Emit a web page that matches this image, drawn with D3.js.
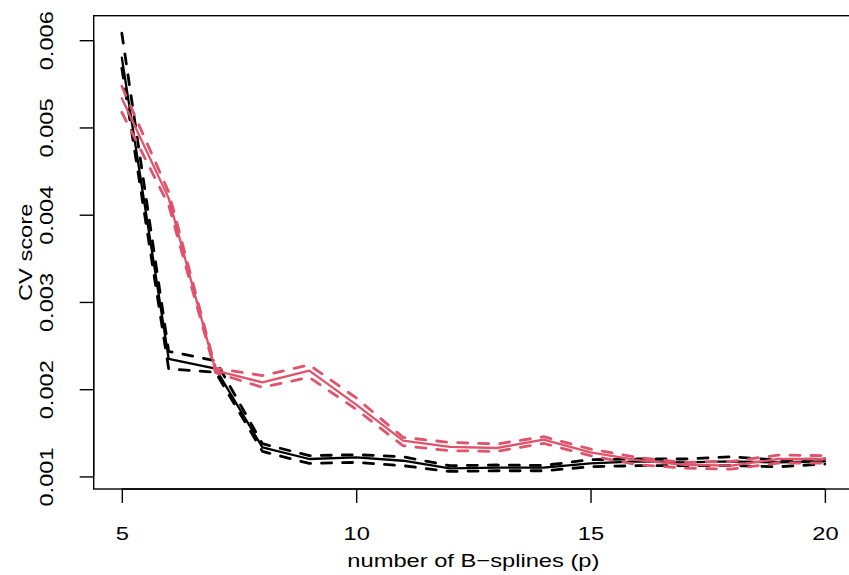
<!DOCTYPE html>
<html>
<head>
<meta charset="utf-8">
<script src="https://cdn.jsdelivr.net/npm/d3@7"></script>
<style>
  body { margin: 0; background: #fff; }
  svg text { font-family: "Liberation Sans", Arial, sans-serif; fill: #000; }
</style>
</head>
<body>
<svg width="849" height="575"></svg>
<script>
// number of B-splines
var p = [5, 6, 7, 8, 9, 10, 11, 12, 13, 14, 15, 16, 17, 18, 19, 20];

// black series: mean CV score with upper / lower bands
var blackMean  = [0.00580, 0.002347, 0.002236, 0.001333, 0.001200, 0.001218, 0.001180, 0.001092, 0.001100, 0.001100, 0.001149, 0.001172, 0.001161, 0.001172, 0.001161, 0.001172];
var blackUpper = [0.00608, 0.002434, 0.002326, 0.001375, 0.001238, 0.001249, 0.001226, 0.001123, 0.001131, 0.001126, 0.001192, 0.001200, 0.001200, 0.001226, 0.001188, 0.001200];
var blackLower = [0.00568, 0.002233, 0.002194, 0.001287, 0.001149, 0.001161, 0.001123, 0.001057, 0.001065, 0.001065, 0.001111, 0.001123, 0.001123, 0.001123, 0.001111, 0.001142];

// red series
var redMean  = [0.005334, 0.00419, 0.002213, 0.002079, 0.002213, 0.001823, 0.001410, 0.001339, 0.001326, 0.001421, 0.001276, 0.001188, 0.001134, 0.001123, 0.001200, 0.001200];
var redUpper = [0.005472, 0.00426, 0.002240, 0.002156, 0.002278, 0.001900, 0.001448, 0.001390, 0.001372, 0.001456, 0.001314, 0.001218, 0.001161, 0.001172, 0.001245, 0.001238];
var redLower = [0.005173, 0.00411, 0.002190, 0.002021, 0.002136, 0.001770, 0.001352, 0.001295, 0.001287, 0.001379, 0.001238, 0.001134, 0.001096, 0.001084, 0.001154, 0.001154];

var xTicks = [5, 10, 15, 20];
var yTicks = [0.001, 0.002, 0.003, 0.004, 0.005, 0.006];

var red = "#DF536B";
var fontSize = "18.5px";
var stretch = 1.28;   // R text comes out wider than Arial

var svg = d3.select("svg");
var mLeft = 93.7, mRight = 853, mTop = 15.7, mBottom = 489;

// R style: 4% padding around data range
var allY = blackMean.concat(blackUpper, blackLower, redMean, redUpper, redLower);
var yMin = d3.min(allY), yMax = d3.max(allY);
var yPad = (yMax - yMin) * 0.04;
var x = d3.scaleLinear().domain([4.4, 20.6]).range([mLeft, mRight]);
var y = d3.scaleLinear().domain([yMin - yPad, yMax + yPad]).range([mBottom, mTop]);

function widen(sel) {
  sel.each(function() {
    var w = this.getComputedTextLength();
    d3.select(this).attr("textLength", w * stretch).attr("lengthAdjust", "spacingAndGlyphs");
  });
}

var line = d3.line()
  .x(function(d, i) { return x(p[i]); })
  .y(function(d) { return y(d); });

var series = [
  { v: blackMean,  c: "#000", dash: null },
  { v: blackUpper, c: "#000", dash: "10 11" },
  { v: blackLower, c: "#000", dash: "10 11" },
  { v: redMean,    c: red,    dash: null },
  { v: redUpper,   c: red,    dash: "10 11" },
  { v: redLower,   c: red,    dash: "10 11" }
];

svg.append("g").selectAll("path")
  .data(series)
  .enter().append("path")
    .attr("d", function(d) { return line(d.v); })
    .attr("fill", "none")
    .attr("stroke", function(d) { return d.c; })
    .attr("stroke-width", function(d) { return d.dash ? 2.8 : 2.3; })
    .attr("stroke-dasharray", function(d) { return d.dash; })
    .attr("stroke-linecap", "round")
    .attr("stroke-linejoin", "round");

// box
svg.append("rect")
  .attr("x", mLeft).attr("y", mTop)
  .attr("width", mRight - mLeft).attr("height", mBottom - mTop)
  .attr("fill", "none").attr("stroke", "#000").attr("stroke-width", 1.4);

// x axis
var xAxis = svg.append("g")
  .attr("transform", "translate(0," + mBottom + ")")
  .call(d3.axisBottom(x).tickValues(xTicks).tickSize(14).tickPadding(0).tickFormat(d3.format("d")));
xAxis.select(".domain").attr("d", "M" + x(5) + ",0H" + x(20)).attr("stroke-width", 1.4);
xAxis.selectAll(".tick line").attr("stroke-width", 1.4);
xAxis.selectAll(".tick text")
  .attr("y", 51).attr("dy", null)
  .style("font-size", fontSize)
  .call(widen);

// y axis, labels parallel to axis
var yAxis = svg.append("g")
  .attr("transform", "translate(" + mLeft + ",0)")
  .call(d3.axisLeft(y).tickValues(yTicks).tickSize(14).tickFormat(d3.format(".3f")));
yAxis.select(".domain").attr("d", "M0," + y(0.001) + "V" + y(0.006)).attr("stroke-width", 1.4);
yAxis.selectAll(".tick line").attr("stroke-width", 1.4);
yAxis.selectAll(".tick text")
  .attr("x", null).attr("dy", null)
  .attr("text-anchor", "middle")
  .attr("transform", "translate(" + (53.5 - mLeft) + ",0) rotate(-90)")
  .style("font-size", fontSize)
  .call(widen);

// axis titles
svg.append("text")
  .attr("x", (mLeft + mRight) / 2).attr("y", 567)
  .attr("text-anchor", "middle")
  .style("font-size", fontSize)
  .text("number of B\u2212splines (p)")
  .call(widen);

svg.append("text")
  .attr("transform", "translate(32," + (mTop + mBottom) / 2 + ") rotate(-90)")
  .attr("text-anchor", "middle")
  .style("font-size", fontSize)
  .text("CV score")
  .call(widen);
</script>
</body>
</html>
